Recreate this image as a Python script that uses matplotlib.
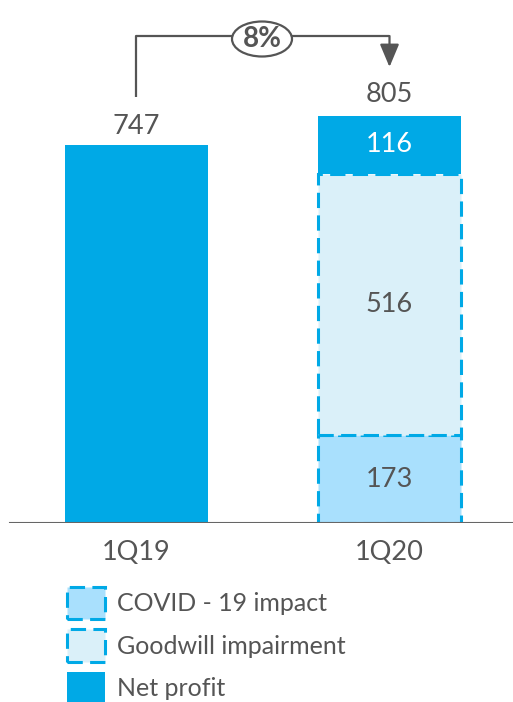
import matplotlib
matplotlib.use("Agg")
import matplotlib.pyplot as plt
from matplotlib.patches import Patch, Ellipse, FancyArrowPatch

categories = ["1Q19", "1Q20"]
covid = [0, 173]
goodwill = [0, 516]
net_profit = [747, 116]
totals = [747, 805]
growth_label = "8%"
legend_labels = ["COVID - 19 impact", "Goodwill impairment", "Net profit"]

BLUE = "#00A9E6"
LIGHT = "#DAF0F9"
MID = "#A9E0FD"
GRAY = "#555555"

plt.rcParams['font.family'] = ['Lato', 'DejaVu Sans']

W, H = 513, 702
fig = plt.figure(figsize=(W / 100, H / 100), dpi=100)
base_px = 523
ax = fig.add_axes([0, (H - base_px) / H, 1, base_px / H])
upp = 747 / 378.0
ax.set_ylim(0, base_px * upp)
pxu = 253.0
ax.set_xlim(-136.5 / pxu, (W - 136.5) / pxu)
ax.axis("off")

x = [0, 1]
bw = 143 / pxu
dash = (0, (5, 2.4))
FS = 19.5

# 1Q19 net profit
ax.bar(x[0], net_profit[0], width=bw, color=BLUE, linewidth=0)
# 1Q20 stack
ax.bar(x[1], covid[1], width=bw, color=MID, edgecolor=BLUE, linewidth=2.2, linestyle=dash)
ax.bar(x[1], goodwill[1], bottom=covid[1], width=bw, color=LIGHT, edgecolor=BLUE, linewidth=2.2, linestyle=dash)
ax.bar(x[1], net_profit[1], bottom=covid[1] + goodwill[1], width=bw, color=BLUE, linewidth=0)

ax.axhline(0, xmin=10 / W, xmax=1, color="#666666", linewidth=1.5)

# labels
ax.annotate(str(totals[0]), (x[0], totals[0]), xytext=(0, 19), textcoords="offset pixels",
            ha="center", va="center", fontsize=FS, color=GRAY)
ax.annotate(str(totals[1]), (x[1], totals[1]), xytext=(0, 21), textcoords="offset pixels",
            ha="center", va="center", fontsize=FS, color=GRAY)
ax.text(x[1], covid[1] / 2, str(covid[1]), ha="center", va="center", fontsize=FS, color=GRAY)
ax.text(x[1], covid[1] + goodwill[1] / 2, str(goodwill[1]), ha="center", va="center", fontsize=FS, color=GRAY)
ax.text(x[1], covid[1] + goodwill[1] + net_profit[1] / 2, str(net_profit[1]), ha="center", va="center",
        fontsize=FS, color="white")
for xi, c in zip(x, categories):
    ax.annotate(c, (xi, 0), xytext=(0, -30), textcoords="offset pixels", ha="center", va="center",
                fontsize=FS, color=GRAY)

# growth bracket
def ypx(p):
    return (base_px - p) * upp

def xpx(p):
    return (p - 136.5) / pxu

top = ypx(36)
ax.plot([x[0], x[0], x[1]], [ypx(97), top, top], color=GRAY, linewidth=1.6, solid_capstyle="butt")
arr = FancyArrowPatch((x[1], top), (x[1], ypx(67)), arrowstyle="-|>,head_length=1.0,head_width=0.42",
                      mutation_scale=14, color=GRAY, linewidth=1.6, shrinkA=0, shrinkB=0)
ax.add_patch(arr)
ell = Ellipse((xpx(262), ypx(39)), 60 / pxu, 35 * upp, facecolor="white", edgecolor=GRAY, linewidth=1.6, zorder=5)
ax.add_patch(ell)
ax.text(xpx(262), ypx(39), growth_label, ha="center", va="center", fontsize=20, fontweight="bold",
        color=GRAY, zorder=6)

handles = [
    Patch(facecolor=MID, edgecolor=BLUE, linewidth=2.2, linestyle=dash),
    Patch(facecolor=LIGHT, edgecolor=BLUE, linewidth=2.2, linestyle=dash),
    Patch(facecolor=BLUE, edgecolor=BLUE, linewidth=0),
]
fig.legend(handles, legend_labels, loc="upper left", bbox_to_anchor=(67 / W, 1 - 587 / H),
           frameon=False, fontsize=18, labelcolor=GRAY, handlelength=1.52, handleheight=1.62,
           labelspacing=0.4, handletextpad=0.48, borderaxespad=0, borderpad=0)

fig.savefig("out.png", dpi=100)
